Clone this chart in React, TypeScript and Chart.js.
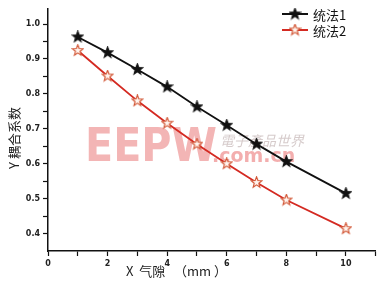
import React, { useEffect, useRef } from "react";
import { Chart, registerables } from "chart.js";
Chart.register(...registerables);

const xValues = [1, 2, 3, 4, 5, 6, 7, 8, 10];
const series1 = [0.963, 0.918, 0.87, 0.82, 0.763, 0.71, 0.656, 0.606, 0.515];
const series2 = [0.924, 0.851, 0.78, 0.716, 0.656, 0.6, 0.546, 0.496, 0.414];
const seriesNames = ["统法1", "统法2"];
const xMajorTicks = [0, 2, 4, 6, 8, 10];
const yMajorTicks = [0.4, 0.5, 0.6, 0.7, 0.8, 0.9, 1.0];
const xTitle = "X  气隙   （mm ）";
const yTitle = "Y 耦合系数";

function makeStar(fill: string, stroke: string, size: number) {
  const c = document.createElement("canvas");
  c.width = size;
  c.height = size;
  const g = c.getContext("2d")!;
  const cx = size / 2, cy = size / 2;
  const R = size / 2 - 0.8, r = R * 0.42;
  g.beginPath();
  for (let i = 0; i < 10; i++) {
    const a = -Math.PI / 2 + (i * Math.PI) / 5;
    const rr = i % 2 === 0 ? R : r;
    const px = cx + rr * Math.cos(a), py = cy + rr * Math.sin(a);
    if (i === 0) g.moveTo(px, py); else g.lineTo(px, py);
  }
  g.closePath();
  g.fillStyle = fill;
  g.fill();
  g.lineWidth = 1.1;
  g.strokeStyle = stroke;
  g.stroke();
  return c;
}

export default function App() {
  const ref = useRef<HTMLCanvasElement>(null);
  useEffect(() => {
    const blackStar = makeStar("#111", "#111", 13);
    const redStar = makeStar("#fff4ee", "#d0502e", 13);
    const colors = ["#111111", "#d42a22"];
    const stars = [blackStar, redStar];

    const overlay = {
      id: "overlay",
      beforeDatasetsDraw(chart: any) {
        const g = chart.ctx;
        g.save();
        g.fillStyle = "rgba(238,150,150,0.7)";
        g.font = "bold 44px 'DejaVu Sans'";
        g.textBaseline = "alphabetic";
        const w = g.measureText("EEPW").width;
        g.translate(85, 161);
        g.scale(132 / w, 1.05);
        g.fillText("EEPW", 0, 0);
        g.restore();
        g.save();
        g.fillStyle = "rgba(180,160,160,0.55)";
        g.font = "italic 14px 'Noto Sans CJK TC'";
        g.textBaseline = "middle";
        g.fillText("電子產品世界", 220, 141);
        g.fillStyle = "rgba(238,140,140,0.7)";
        g.font = "bold 19px 'DejaVu Sans'";
        g.fillText(".com.cn", 212, 157);
        g.restore();
      },
      afterDraw(chart: any) {
        const g = chart.ctx;
        g.save();
        seriesNames.forEach((n, i) => {
          const y = 14 + i * 16;
          g.strokeStyle = colors[i];
          g.lineWidth = 2;
          g.beginPath();
          g.moveTo(282, y);
          g.lineTo(308, y);
          g.stroke();
          g.drawImage(stars[i], 295 - 6.5, y - 6.5);
          g.fillStyle = "#111";
          g.font = "13px 'Noto Sans CJK SC'";
          g.textBaseline = "middle";
          g.textAlign = "left";
          g.fillText(n, 313, y + 1);
        });
        g.fillStyle = "#222";
        g.font = "13px 'Noto Sans CJK SC'";
        g.textAlign = "left";
        g.textBaseline = "middle";
        g.fillText(xTitle, 126, 271);
        g.translate(14, 138);
        g.rotate(-Math.PI / 2);
        g.textAlign = "center";
        g.font = "13px 'Noto Sans CJK SC'";
        g.fillText(yTitle, 0, 0);
        g.restore();
      },
    };

    const chart = new Chart(ref.current!, {
      type: "line",
      data: {
        datasets: [series1, series2].map((s, i) => ({
          label: seriesNames[i],
          data: xValues.map((x, j) => ({ x, y: s[j] })),
          borderColor: colors[i],
          borderWidth: 1.8,
          pointStyle: stars[i] as any,
          pointRadius: 6.5,
          fill: false,
          tension: 0,
        })),
      },
      options: {
        animation: false,
        responsive: false,
        maintainAspectRatio: false,
        layout: { padding: { left: 0, right: 4, top: 4, bottom: 0 } },
        plugins: { legend: { display: false }, tooltip: { enabled: false } },
        scales: {
          x: {
            type: "linear",
            min: 0,
            max: 11,
            border: { display: true, color: "#111", width: 1.5 },
            grid: { drawOnChartArea: false, drawTicks: true, tickLength: 5, color: "#111", tickWidth: 1.2 },
            afterBuildTicks: (scale: any) => {
              const t = [];
              for (let v = 0; v <= 11; v++) t.push({ value: v });
              scale.ticks = t;
            },
            afterFit: (scale: any) => { scale.height = 39; },
            ticks: {
              autoSkip: false,
              maxRotation: 0,
              padding: 3,
              color: "#222",
              font: { size: 8, weight: "bold", family: "'DejaVu Sans'" },
              callback: (v: any) => (xMajorTicks.includes(Number(v)) ? String(v) : ""),
            },
          },
          y: {
            type: "linear",
            min: 0.35,
            max: 1.045,
            border: { display: true, color: "#111", width: 1.5 },
            grid: { drawOnChartArea: false, drawTicks: true, tickLength: 5, color: "#111", tickWidth: 1.2 },
            afterBuildTicks: (scale: any) => {
              const t: any[] = [];
              yMajorTicks.forEach((v, i) => {
                t.push({ value: v });
                if (i < yMajorTicks.length - 1) t.push({ value: (v + yMajorTicks[i + 1]) / 2 });
              });
              scale.ticks = t;
            },
            afterFit: (scale: any) => { scale.width = 48; },
            ticks: {
              autoSkip: false,
              padding: 3,
              color: "#222",
              font: { size: 8, weight: "bold", family: "'DejaVu Sans'" },
              callback: (v: any) => {
                const n = Number(v);
                return yMajorTicks.some((m) => Math.abs(m - n) < 1e-6) ? n.toFixed(1) : "";
              },
            },
          },
        },
      },
      plugins: [overlay],
    });
    return () => chart.destroy();
  }, []);
  return (
    <div style={{ position: "absolute", left: 0, top: 0, width: 384, height: 290, background: "#fff" }}>
      <canvas ref={ref} width={384} height={290} style={{ width: 384, height: 290 }} />
    </div>
  );
}
